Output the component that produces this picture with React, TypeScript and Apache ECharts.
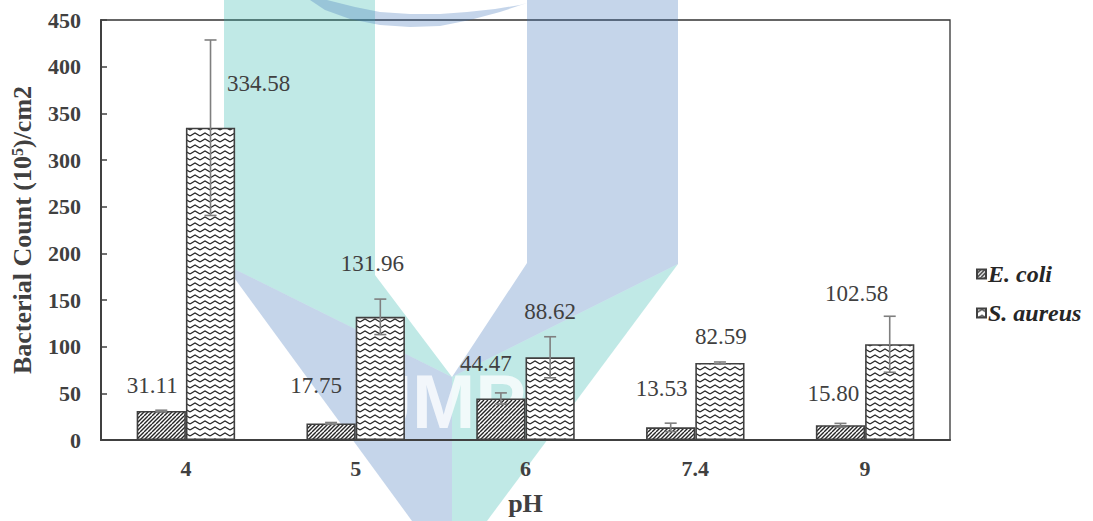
import { useEffect, useRef } from "react";
import * as echarts from "echarts";

// pH levels on the x axis
const phLevels = ["4", "5", "6", "7.4", "9"];

// Mean bacterial counts (10^5 / cm2)
const ecoliCounts = [31.11, 17.75, 44.47, 13.53, 15.8];
const saureusCounts = [334.58, 131.96, 88.62, 82.59, 102.58];

// Standard deviations shown as error bars
const ecoliErrors = [0.8, 1, 6, 4.5, 2];
const saureusErrors = [94, 19, 22, 1, 30];

// Y axis range
const yMin = 0;
const yMax = 450;
const yStep = 50;

// Manual nudges for the value labels [dx, dy]
const ecoliLabelShift: [number, number][] = [
  [-9, -14],
  [-15, -26],
  [-15, -23],
  [-9, -27],
  [-7, -20],
];
const saureusLabelShift: [number, number][] = [
  [48, -33],
  [-8, -42],
  [0, -34],
  [1, -15],
  [-33, -39],
];

const SERIF = "Liberation Serif";
const INK = "#404040";
const BAR_FRAC = 0.29;

function hatchTile(): HTMLCanvasElement {
  const s = 8;
  const c = document.createElement("canvas");
  c.width = s;
  c.height = s;
  const g = c.getContext("2d")!;
  g.fillStyle = "#ffffff";
  g.fillRect(0, 0, s, s);
  g.strokeStyle = "#262626";
  g.lineWidth = 1.4;
  for (let k = -2 * s; k <= 2 * s; k += 4) {
    g.beginPath();
    g.moveTo(k, s);
    g.lineTo(k + s, 0);
    g.stroke();
  }
  return c;
}

function zigzagTile(): HTMLCanvasElement {
  const w = 10;
  const h = 6;
  const c = document.createElement("canvas");
  c.width = w;
  c.height = h;
  const g = c.getContext("2d")!;
  g.fillStyle = "#ffffff";
  g.fillRect(0, 0, w, h);
  g.strokeStyle = "#262626";
  g.lineWidth = 1.2;
  for (const base of [-h, 0, h]) {
    for (const ox of [-w, 0, w]) {
      g.beginPath();
      g.moveTo(ox, base + 4);
      g.lineTo(ox + w / 2, base + 1);
      g.lineTo(ox + w, base + 4);
      g.stroke();
    }
  }
  return c;
}

function errorBars(values: number[], errors: number[], side: number, name: string) {
  return {
    type: "custom",
    name: name + " error",
    z: 5,
    silent: true,
    encode: { x: 0, y: 1 },
    data: values.map((v, i) => [i, v, errors[i]]),
    renderItem: (_p: any, api: any) => {
      const i = api.value(0);
      const v = api.value(1);
      const e = api.value(2);
      const band = api.size([1, 0])[0];
      const dx = (side * band * BAR_FRAC) / 2;
      const hi = api.coord([i, v + e]);
      const lo = api.coord([i, v - e]);
      const x = hi[0] + dx;
      const cap = 6;
      const style = { stroke: "#7f7f7f", lineWidth: 1.6 };
      return {
        type: "group",
        children: [
          { type: "line", shape: { x1: x, y1: hi[1], x2: x, y2: lo[1] }, style },
          { type: "line", shape: { x1: x - cap, y1: hi[1], x2: x + cap, y2: hi[1] }, style },
          { type: "line", shape: { x1: x - cap, y1: lo[1], x2: x + cap, y2: lo[1] }, style },
        ],
      };
    },
  };
}

// Semi-transparent university logo laid over the plot
function watermark() {
  const teal = "rgba(48,182,172,0.3)";
  const blue = "rgba(62,115,185,0.3)";
  const poly = (points: number[][], fill: string) => ({
    type: "polygon",
    silent: true,
    shape: { points },
    style: { fill },
  });
  return {
    type: "group",
    z: 100,
    silent: true,
    children: [
      poly([[224, 0], [375, 0], [375, 275], [452, 377], [224, 264]], teal),
      poly([[224, 264], [452, 377], [452, 521], [412, 521]], blue),
      poly([[527, 0], [678, 0], [678, 264], [452, 377], [527, 263]], blue),
      poly([[678, 264], [452, 377], [452, 521], [487, 521]], teal),
      poly(
        [
          [310, 0], [325, 10], [350, 19], [380, 25], [410, 27], [440, 26], [470, 20], [500, 12], [527, 3],
          [520, 5], [495, 9], [467, 12], [440, 14], [410, 14], [380, 12], [355, 7], [335, 2], [327, 0],
        ],
        blue
      ),
      {
        type: "text",
        silent: true,
        style: {
          text: "UMP",
          x: 357,
          y: 401,
          verticalAlign: "middle",
          fontSize: 76,
          lineHeight: 54,
          fontWeight: "bold",
          fontFamily: "Liberation Sans",
          fill: "rgba(255,255,255,0.78)",
        },
      },
    ],
  };
}

export default function App() {
  const ref = useRef<HTMLDivElement>(null);

  useEffect(() => {
    if (!ref.current) return;
    const chart = echarts.init(ref.current, null, { renderer: "svg" });

    const hatchFill = { image: hatchTile(), repeat: "repeat", imageWidth: 8, imageHeight: 8 };
    const zigzagFill = { image: zigzagTile(), repeat: "repeat", imageWidth: 10, imageHeight: 6 };

    const labelBase = {
      show: true,
      position: "top",
      distance: 0,
      fontFamily: SERIF,
      fontSize: 23,
      color: INK,
      formatter: (p: any) => Number(p.value).toFixed(2),
    };

    chart.setOption({
      animation: false,
      backgroundColor: "#ffffff",
      textStyle: { fontFamily: SERIF },
      grid: {
        left: 101,
        right: 143,
        top: 20,
        bottom: 74,
        show: true,
        borderColor: "#333333",
        borderWidth: 1.3,
      },
      legend: {
        orient: "vertical",
        left: 971,
        top: 257,
        itemWidth: 9,
        itemHeight: 9,
        itemGap: 15,
        icon: "rect",
        data: ["E. coli", "S. aureus"],
        textStyle: {
          fontFamily: SERIF,
          fontSize: 24,
          fontWeight: "bold",
          fontStyle: "italic",
          color: "#262626",
          padding: [0, 0, 0, -3],
        },
      },
      xAxis: {
        type: "category",
        data: phLevels,
        axisLine: { lineStyle: { color: INK, width: 2 } },
        axisTick: { show: false },
        axisLabel: {
          fontFamily: SERIF,
          fontSize: 22,
          fontWeight: "bold",
          color: INK,
          margin: 17,
        },
        name: "pH",
        nameLocation: "middle",
        nameGap: 50,
        nameTextStyle: {
          fontFamily: SERIF,
          fontSize: 26,
          fontWeight: "bold",
          color: INK,
        },
      },
      yAxis: {
        type: "value",
        min: yMin,
        max: yMax,
        interval: yStep,
        splitLine: { show: false },
        axisLine: { show: true, lineStyle: { color: INK, width: 2 } },
        axisTick: { show: true, inside: true, length: 6, lineStyle: { color: INK, width: 1.5 } },
        axisLabel: {
          fontFamily: SERIF,
          fontSize: 22,
          fontWeight: "bold",
          color: INK,
          margin: 20,
        },
        name: "{a|Bacterial Count (10}{s|5}{a|)/cm2}",
        nameLocation: "middle",
        nameRotate: 90,
        nameGap: 66,
        nameTextStyle: {
          fontFamily: SERIF,
          fontSize: 26,
          fontWeight: "bold",
          color: INK,
          rich: {
            a: { fontFamily: SERIF, fontSize: 26, fontWeight: "bold", color: INK },
            s: { fontFamily: SERIF, fontSize: 16, fontWeight: "bold", color: INK, verticalAlign: "top" },
          },
        },
      },
      series: [
        {
          name: "E. coli",
          type: "bar",
          barWidth: BAR_FRAC * 100 + "%",
          barGap: "0%",
          itemStyle: { color: hatchFill, borderColor: INK, borderWidth: 1.6 },
          label: labelBase,
          data: ecoliCounts.map((v, i) => ({ value: v, label: { offset: ecoliLabelShift[i] } })),
        },
        {
          name: "S. aureus",
          type: "bar",
          barWidth: BAR_FRAC * 100 + "%",
          barGap: "0%",
          itemStyle: { color: zigzagFill, borderColor: INK, borderWidth: 1.6 },
          label: labelBase,
          data: saureusCounts.map((v, i) => ({ value: v, label: { offset: saureusLabelShift[i] } })),
        },
        errorBars(ecoliCounts, ecoliErrors, -1, "E. coli"),
        errorBars(saureusCounts, saureusErrors, 1, "S. aureus"),
      ],
      graphic: [watermark()],
    });

    return () => chart.dispose();
  }, []);

  return (
    <div
      ref={ref}
      style={{ position: "absolute", left: 0, top: 0, width: 1093, height: 521 }}
    />
  );
}
